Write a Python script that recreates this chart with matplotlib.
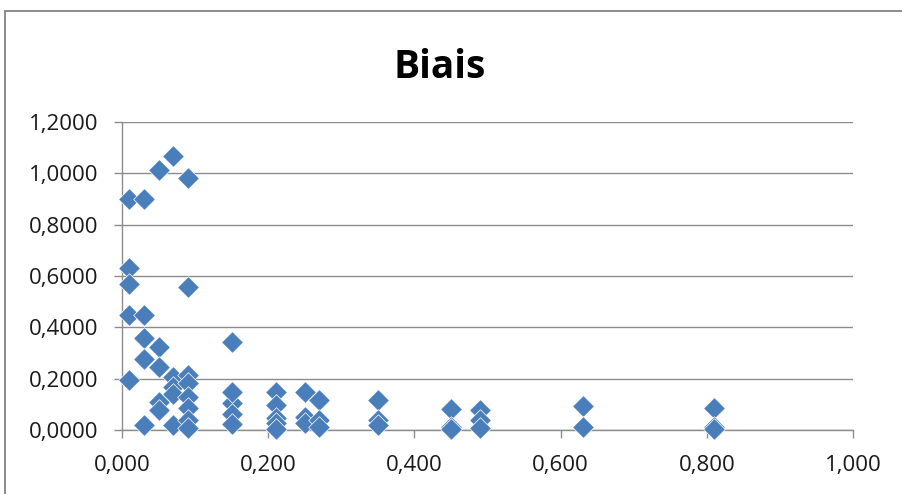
import matplotlib
matplotlib.use("Agg")
import matplotlib.pyplot as plt
from matplotlib.ticker import FuncFormatter, MultipleLocator
from matplotlib.patches import Rectangle

# data
x_vals = [
    0.01, 0.01, 0.01, 0.01, 0.01,
    0.03, 0.03, 0.03, 0.03, 0.03,
    0.05, 0.05, 0.05, 0.05, 0.05,
    0.07, 0.07, 0.07, 0.07, 0.07,
    0.09, 0.09, 0.09, 0.09, 0.09, 0.09, 0.09, 0.09,
    0.15, 0.15, 0.15, 0.15, 0.15, 0.15,
    0.21, 0.21, 0.21, 0.21, 0.21,
    0.25, 0.25, 0.25,
    0.27, 0.27, 0.27,
    0.35, 0.35, 0.35,
    0.45, 0.45, 0.45,
    0.49, 0.49, 0.49,
    0.63, 0.63,
    0.81, 0.81, 0.81,
]
y_vals = [
    0.900, 0.631, 0.569, 0.448, 0.195,
    0.900, 0.448, 0.358, 0.277, 0.020,
    1.013, 0.323, 0.245, 0.110, 0.078,
    1.067, 0.206, 0.168, 0.140, 0.020,
    0.980, 0.557, 0.214, 0.183, 0.130, 0.085, 0.040, 0.008,
    0.343, 0.150, 0.105, 0.062, 0.025, 0.148,
    0.148, 0.097, 0.047, 0.027, 0.002,
    0.148, 0.050, 0.027,
    0.117, 0.040, 0.012,
    0.117, 0.040, 0.020,
    0.080, 0.012, 0.002,
    0.078, 0.040, 0.008,
    0.094, 0.012,
    0.085, 0.012, 0.002,
]
title = "Biais"
x_range = (0.0, 1.0)
y_range = (0.0, 1.2)

plt.rcParams['font.family'] = ['Open Sans', 'DejaVu Sans']

fig = plt.figure(figsize=(9.02, 4.94), dpi=100)
fig.patches.append(Rectangle((5/902, -0.1), 1.2, 1 - 11/494 + 0.1,
                             transform=fig.transFigure, fill=False,
                             edgecolor='#8c8c8c', linewidth=1.4))

ax = fig.add_axes([122/902, 1 - 430/494, (853 - 122)/902, (430 - 122)/494])
ax.scatter(x_vals, y_vals, marker='D', s=11.0**2, color='#4A7EBB',
           edgecolors='white', linewidths=0.5, zorder=3, clip_on=False)

ax.set_xlim(*x_range)
ax.set_ylim(*y_range)
ax.xaxis.set_major_locator(MultipleLocator(0.2))
ax.yaxis.set_major_locator(MultipleLocator(0.2))
ax.xaxis.set_major_formatter(FuncFormatter(lambda v, p: f"{v:.3f}".replace('.', ',')))
ax.yaxis.set_major_formatter(FuncFormatter(lambda v, p: f"{v:.4f}".replace('.', ',')))

ax.grid(axis='y', color='#8c8c8c', linewidth=1.0, zorder=0)
ax.set_axisbelow(True)
for s in ['top', 'right']:
    ax.spines[s].set_visible(False)
for s in ['left', 'bottom']:
    ax.spines[s].set_color('#8c8c8c')
    ax.spines[s].set_linewidth(1.0)
ax.tick_params(axis='both', colors='#8c8c8c', length=6, width=1.0,
               labelcolor='#1a1a1a', labelsize=16, direction='out')
ax.tick_params(axis='x', pad=12)
ax.tick_params(axis='y', pad=11)

fig.text(440/902, 1 - 68/494, title, ha='center', va='center',
         fontsize=28, fontweight='bold')

fig.savefig("out.png", dpi=100)
